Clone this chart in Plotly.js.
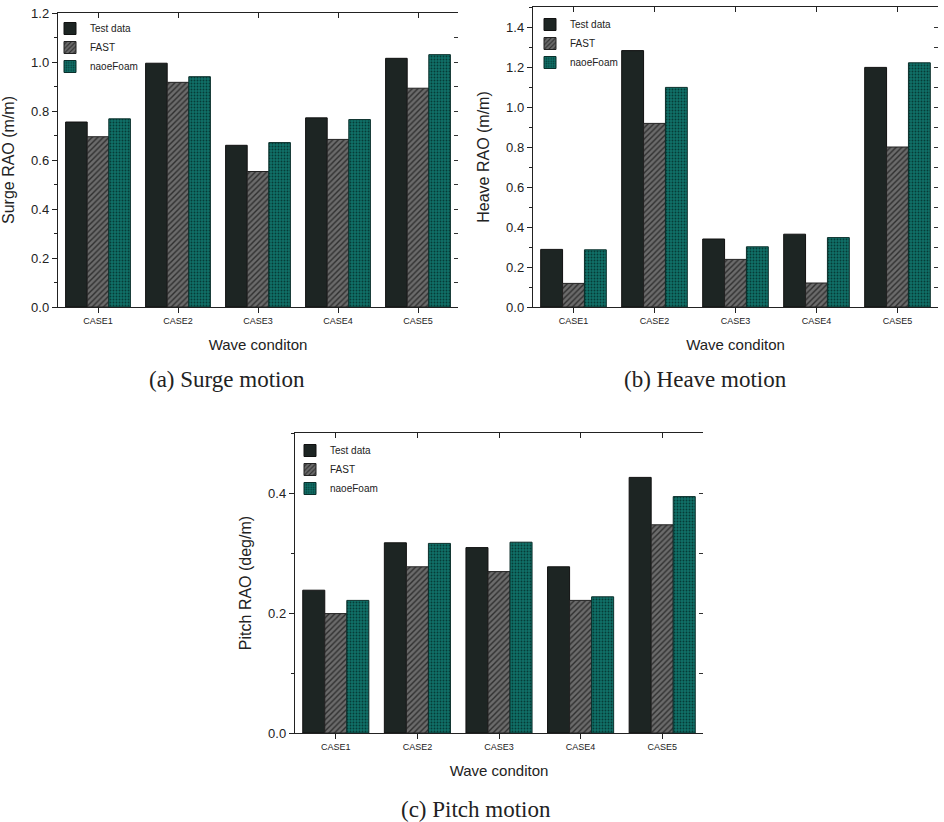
<!DOCTYPE html>
<html>
<head>
<meta charset="utf-8">
<script src="https://cdn.plot.ly/plotly-3.0.1.min.js"></script>
<style>html,body{margin:0;padding:0;background:#fff;}#chart{width:944px;height:822px;}</style>
</head>
<body>
<div id="chart"></div>
<script>
// ---- data ----
const cases = ['CASE1', 'CASE2', 'CASE3', 'CASE4', 'CASE5'];
const seriesNames = ['Test data', 'FAST', 'naoeFoam'];

const surgeTest = [0.755, 0.995, 0.660, 0.772, 1.015];
const surgeFAST = [0.695, 0.917, 0.553, 0.684, 0.893];
const surgeNaoe = [0.768, 0.940, 0.671, 0.765, 1.030];

const heaveTest = [0.288, 1.282, 0.340, 0.364, 1.198];
const heaveFAST = [0.118, 0.918, 0.238, 0.120, 0.800];
const heaveNaoe = [0.286, 1.098, 0.301, 0.347, 1.221];

const pitchTest = [0.238, 0.317, 0.309, 0.277, 0.426];
const pitchFAST = [0.199, 0.277, 0.269, 0.221, 0.347];
const pitchNaoe = [0.221, 0.316, 0.318, 0.227, 0.394];

const yTitles = ['Surge RAO (m/m)', 'Heave RAO (m/m)', 'Pitch RAO (deg/m)'];
const xTitle = 'Wave conditon';
const captions = ['(a) Surge motion', '(b) Heave motion', '(c) Pitch motion'];

// ---- styles ----
const styles = [
  {color: '#1d2523', line: {color: '#111', width: 1}},
  {color: '#666', line: {color: '#222', width: 1},
   pattern: {shape: '/', bgcolor: '#6b6b6b', fgcolor: '#2f2f2f', size: 4, solidity: 0.35}},
  {color: '#0f6f67', line: {color: '#0b2f2b', width: 1},
   pattern: {shape: '.', bgcolor: '#107068', fgcolor: '#063b36', size: 3, solidity: 0.3}}
];

const groups = [
  {vals: [surgeTest, surgeFAST, surgeNaoe], xa: 'x', ya: 'y', lg: 'legend', ox: 'x4', oy: 'y4'},
  {vals: [heaveTest, heaveFAST, heaveNaoe], xa: 'x2', ya: 'y2', lg: 'legend2', ox: 'x5', oy: 'y5'},
  {vals: [pitchTest, pitchFAST, pitchNaoe], xa: 'x3', ya: 'y3', lg: 'legend3', ox: 'x6', oy: 'y6'}
];

const traces = [];
groups.forEach(g => {
  g.vals.forEach((v, i) => {
    traces.push({
      type: 'bar', x: cases, y: v, name: seriesNames[i],
      xaxis: g.xa, yaxis: g.ya, legend: g.lg,
      marker: styles[i], hoverinfo: 'x+y+name'
    });
  });
  // empty helper trace so the mirrored top / right tick axes get drawn
  traces.push({
    type: 'scatter', mode: 'markers', x: [null], y: [null],
    xaxis: g.ox, yaxis: g.oy, showlegend: false, hoverinfo: 'skip'
  });
});

const W = 944, H = 822;
const fx = p => p / W;
const fy = p => 1 - p / H;

const tickFont = {family: 'Liberation Sans, Arial, sans-serif', size: 13, color: '#222'};
const catFont = {family: 'Liberation Sans, Arial, sans-serif', size: 9, color: '#222'};

function xAxis(dom, anchor) {
  return {
    domain: dom, anchor: anchor, type: 'category',
    showline: true, linecolor: '#222', linewidth: 1.2,
    ticks: 'outside', ticklen: 5, tickcolor: '#222',
    tickfont: catFont, showgrid: false, zeroline: false, fixedrange: true,
    title: {text: xTitle, font: {family: 'Liberation Sans, Arial, sans-serif', size: 15, color: '#222'}, standoff: 14}
  };
}
function yAxis(dom, anchor, range, dtick, minor, title) {
  return {
    domain: dom, anchor: anchor, range: range, dtick: dtick, tick0: 0,
    showline: true, linecolor: '#222', linewidth: 1.2,
    ticks: 'outside', ticklen: 5, tickcolor: '#222',
    minor: minor ? {ticks: 'outside', dtick: minor, ticklen: 3, tickcolor: '#222'} : undefined,
    tickformat: '.1f', tickfont: tickFont, showgrid: false, zeroline: false, fixedrange: true,
    title: {text: title, font: {family: 'Liberation Sans, Arial, sans-serif', size: 16, color: '#222'}, standoff: 12}
  };
}
function topAxis(dom, anchor, over) {
  return {
    domain: dom, anchor: anchor, overlaying: over, side: 'top', type: 'linear',
    range: [-0.5, 4.5], tick0: 0, dtick: 1,
    showline: true, linecolor: '#222', linewidth: 1.2,
    ticks: 'inside', ticklen: 5, tickcolor: '#222',
    showticklabels: false, showgrid: false, zeroline: false, fixedrange: true
  };
}
function rightAxis(dom, anchor, over, range, dtick) {
  return {
    domain: dom, anchor: anchor, overlaying: over, side: 'right', type: 'linear',
    range: range, tick0: 0, dtick: dtick,
    showline: false, ticks: 'inside', ticklen: 4, tickcolor: '#333',
    showticklabels: false, showgrid: false, zeroline: false, fixedrange: true
  };
}

const domA = {x: [fx(58), fx(458)], y: [fy(307), fy(13)]};
const domB = {x: [fx(533), fx(938)], y: [fy(307), fy(7)]};
const domC = {x: [fx(295), fx(703)], y: [fy(733), fy(433)]};

const legendBase = {
  bgcolor: 'rgba(0,0,0,0)', borderwidth: 0, xanchor: 'left', yanchor: 'top',
  font: {family: 'Liberation Sans, Arial, sans-serif', size: 10, color: '#222'},
  tracegroupgap: 0, itemwidth: 30
};

const capFont = {family: 'Liberation Serif, Times New Roman, serif', size: 23, color: '#222'};

const layout = {
  width: W, height: H,
  margin: {l: 0, r: 0, t: 0, b: 0},
  paper_bgcolor: '#fff', plot_bgcolor: '#fff',
  barmode: 'group', bargap: 0.19, bargroupgap: 0,
  font: {family: 'Liberation Sans, Arial, sans-serif', color: '#222'},
  xaxis: xAxis(domA.x, 'y'),
  yaxis: yAxis(domA.y, 'x', [0, 1.2], 0.2, 0.1, yTitles[0]),
  xaxis2: xAxis(domB.x, 'y2'),
  yaxis2: yAxis(domB.y, 'x2', [0, 1.5], 0.2, 0.1, yTitles[1]),
  xaxis3: xAxis(domC.x, 'y3'),
  yaxis3: yAxis(domC.y, 'x3', [0, 0.5], 0.2, 0.1, yTitles[2]),
  xaxis4: topAxis(domA.x, 'y4', 'x'),
  yaxis4: rightAxis(domA.y, 'x4', 'y', [0, 1.2], 0.1),
  xaxis5: topAxis(domB.x, 'y5', 'x2'),
  yaxis5: rightAxis(domB.y, 'x5', 'y2', [0, 1.5], 0.1),
  xaxis6: topAxis(domC.x, 'y6', 'x3'),
  yaxis6: rightAxis(domC.y, 'x6', 'y3', [0, 0.5], 0.1),
  legend: Object.assign({}, legendBase, {x: fx(50), y: fy(14)}),
  legend2: Object.assign({}, legendBase, {x: fx(530), y: fy(10)}),
  legend3: Object.assign({}, legendBase, {x: fx(290), y: fy(436)}),
  annotations: [
    {text: captions[0], x: fx(227), y: fy(379), xref: 'paper', yref: 'paper', showarrow: false, font: capFont, xanchor: 'center', yanchor: 'middle'},
    {text: captions[1], x: fx(705), y: fy(379), xref: 'paper', yref: 'paper', showarrow: false, font: capFont, xanchor: 'center', yanchor: 'middle'},
    {text: captions[2], x: fx(476), y: fy(809), xref: 'paper', yref: 'paper', showarrow: false, font: capFont, xanchor: 'center', yanchor: 'middle'}
  ]
};

Plotly.newPlot('chart', traces, layout, {displayModeBar: false, staticPlot: true});
</script>
</body>
</html>
